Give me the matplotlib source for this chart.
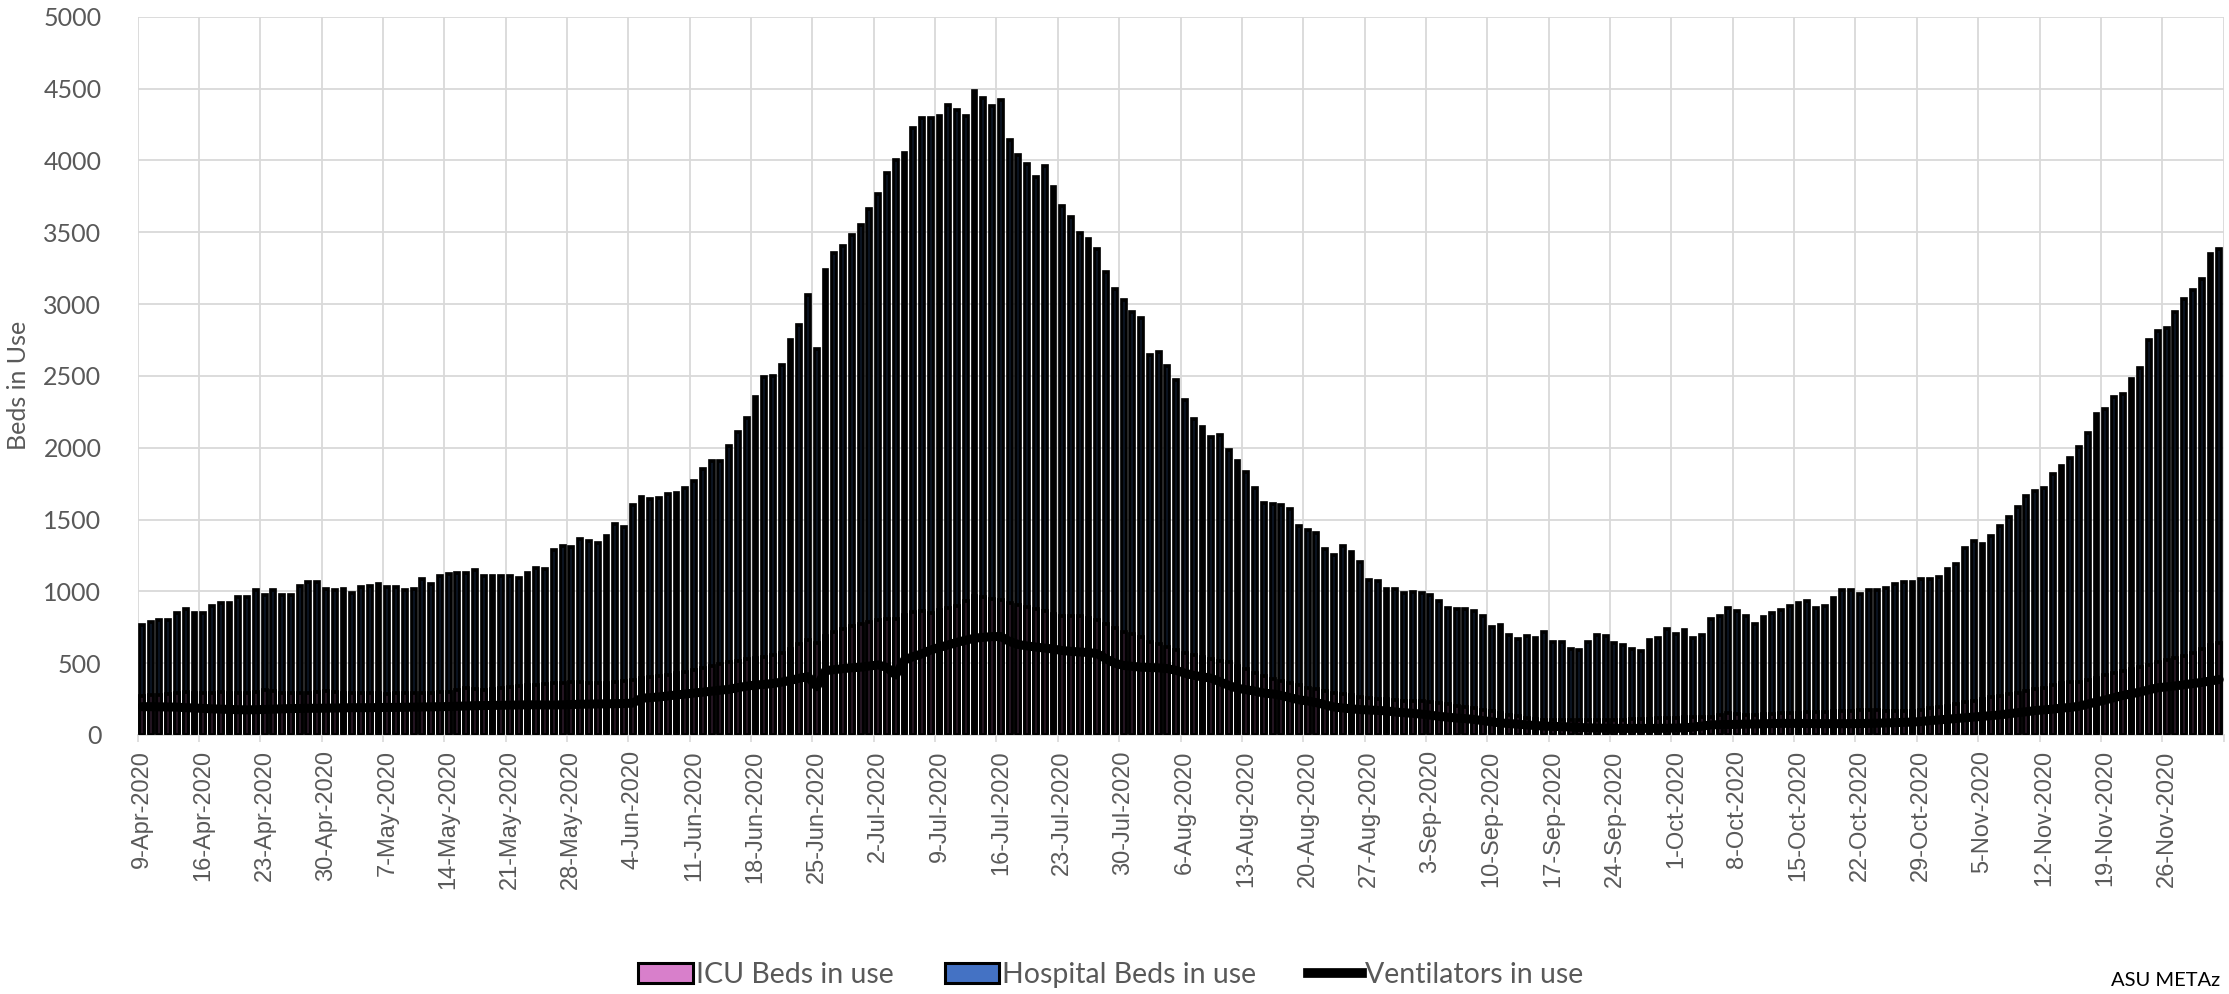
import matplotlib
matplotlib.use("Agg")
import matplotlib.pyplot as plt
from matplotlib.patches import Patch
from matplotlib.lines import Line2D
import numpy as np
import pandas as pd

# ---------------- data ----------------
start_date = "2020-04-09"
n_days = 238

hospital_beds = [
    767, 785, 801, 801, 852, 875, 852, 852, 898, 921,
    921, 963, 963, 1010, 975, 1010, 975, 975, 1040, 1066,
    1066, 1019, 1010, 1019, 987, 1031, 1040, 1054, 1031, 1031,
    1010, 1019, 1084, 1054, 1108, 1122, 1131, 1131, 1150, 1108,
    1108, 1108, 1108, 1096, 1131, 1164, 1154, 1286, 1316, 1306,
    1362, 1349, 1339, 1382, 1471, 1448, 1602, 1658, 1642, 1652,
    1675, 1684, 1717, 1767, 1849, 1905, 1905, 2010, 2109, 2208,
    2352, 2490, 2500, 2579, 2747, 2852, 3066, 2688, 3237, 3356,
    3405, 3481, 3547, 3658, 3764, 3915, 4004, 4050, 4228, 4293,
    4293, 4310, 4382, 4349, 4310, 4486, 4432, 4376, 4422, 4142,
    4034, 3974, 3885, 3961, 3816, 3685, 3603, 3494, 3451, 3385,
    3224, 3102, 3027, 2941, 2902, 2648, 2668, 2569, 2471, 2333,
    2201, 2142, 2076, 2086, 1987, 1908, 1833, 1721, 1615, 1609,
    1599, 1576, 1457, 1428, 1405, 1296, 1250, 1316, 1273, 1201,
    1082, 1069, 1017, 1015, 989, 998, 989, 975, 933, 887,
    877, 877, 866, 831, 752, 763, 696, 666, 687, 677,
    719, 650, 650, 599, 594, 650, 698, 687, 640, 629,
    599, 585, 664, 675, 740, 705, 729, 675, 696, 808,
    831, 885, 866, 831, 773, 819, 850, 873, 896, 920,
    933, 885, 898, 955, 1012, 1012, 984, 1012, 1012, 1021,
    1049, 1063, 1063, 1083, 1083, 1097, 1154, 1188, 1305, 1353,
    1331, 1388, 1453, 1518, 1587, 1667, 1695, 1718, 1814, 1874,
    1931, 2008, 2099, 2235, 2269, 2355, 2372, 2477, 2557, 2748,
    2813, 2833, 2941, 3038, 3095, 3174, 3350, 3382,
]

icu_beds = [
    270, 275, 280, 285, 290, 300, 295, 290, 295, 300,
    295, 290, 290, 300, 315, 305, 290, 295, 290, 295,
    300, 305, 300, 295, 290, 290, 295, 290, 285, 290,
    290, 290, 295, 290, 300, 302, 310, 325, 320, 315,
    320, 330, 335, 340, 345, 350, 355, 360, 365, 370,
    372, 365, 359, 362, 368, 375, 385, 395, 405, 410,
    420, 430, 440, 450, 465, 480, 495, 505, 515, 527,
    535, 541, 555, 569, 600, 630, 660, 640, 690, 720,
    740, 760, 775, 790, 800, 805, 806, 835, 859, 860,
    852, 870, 882, 900, 930, 970, 960, 950, 940, 920,
    905, 890, 875, 860, 845, 829, 830, 829, 815, 803,
    775, 747, 720, 700, 680, 650, 630, 610, 590, 570,
    555, 540, 530, 518, 507, 480, 457, 430, 408, 390,
    375, 360, 345, 330, 320, 305, 295, 285, 275, 265,
    258, 252, 248, 243, 240, 239, 235, 232, 225, 215,
    205, 195, 185, 175, 165, 150, 140, 130, 120, 112,
    104, 104, 104, 104, 104, 104, 104, 104, 104, 105,
    108, 110, 112, 115, 118, 120, 122, 124, 126, 128,
    140, 151, 145, 139, 142, 144, 146, 150, 152, 155,
    158, 160, 162, 165, 168, 170, 172, 173, 173, 170,
    167, 167, 167, 175, 185, 195, 205, 215, 228, 240,
    252, 262, 272, 282, 292, 305, 318, 329, 345, 363,
    368, 372, 385, 400, 415, 430, 445, 460, 475, 490,
    505, 520, 535, 550, 571, 600, 628, 640,
]

ventilators = [
    197, 197, 196, 195, 194, 190, 188, 185, 182, 180,
    178, 176, 175, 176, 178, 180, 182, 184, 185, 186,
    186, 187, 188, 189, 190, 190, 190, 191, 192, 192,
    193, 194, 195, 196, 197, 198, 200, 202, 204, 205,
    206, 207, 208, 209, 210, 210, 209, 209, 210, 212,
    214, 215, 216, 217, 218, 219, 222, 256, 260, 265,
    272, 279, 285, 292, 298, 305, 312, 318, 330, 340,
    348, 352, 359, 368, 380, 395, 406, 336, 448, 455,
    462, 468, 472, 480, 488, 470, 418, 522, 546, 565,
    592, 610, 627, 645, 660, 674, 680, 685, 685, 650,
    630, 620, 612, 605, 598, 588, 582, 578, 574, 566,
    530, 500, 484, 478, 472, 470, 467, 462, 450, 430,
    415, 405, 395, 370, 345, 325, 315, 305, 292, 286,
    275, 260, 245, 237, 225, 210, 195, 188, 182, 177,
    174, 171, 168, 160, 155, 151, 145, 138, 130, 124,
    118, 114, 108, 100, 92, 84, 80, 75, 70, 66,
    62, 60, 58, 56, 52, 50, 48, 47, 46, 46,
    46, 46, 46, 46, 47, 48, 50, 55, 62, 70,
    72, 73, 74, 76, 77, 78, 80, 81, 81, 81,
    80, 79, 79, 79, 79, 79, 80, 81, 82, 84,
    86, 88, 90, 94, 100, 105, 110, 115, 120, 125,
    130, 135, 140, 148, 155, 162, 170, 175, 180, 187,
    192, 200, 215, 230, 244, 260, 275, 287, 300, 315,
    329, 335, 342, 350, 358, 366, 376, 386,
]

series_names = ["ICU Beds in use", "Hospital Beds in use", "Ventilators in use"]
y_ticks = list(range(0, 5001, 500))

dates = pd.date_range(start_date, periods=n_days, freq="D")
label_idx = list(range(0, n_days, 7))[:34]
tick_labels = [f"{dates[i].day}-{dates[i].strftime('%b')}-{dates[i].year}" for i in label_idx]

# ---------------- style ----------------
ICU_C = "#D87FCB"
HOSP_C = "#4472C4"
GRID_C = "#D9D9D9"
TXT_C = "#595959"

W, H = 2229, 994
fig = plt.figure(figsize=(W / 100, H / 100), dpi=100)
left, right, top, bottom = 137.5, 2223.6, 16.7, 735
ax = fig.add_axes([left / W, (H - bottom) / H, (right - left) / W, (bottom - top) / H])

x = np.arange(n_days)
bw = 0.44
elw = 2.65
ax.bar(x, hospital_beds, width=bw, color=HOSP_C, edgecolor="black", linewidth=elw, zorder=2)
ax.bar(x, icu_beds, width=bw, color=ICU_C, edgecolor="black", linewidth=elw, zorder=3)
ax.plot(x, ventilators, color="black", linewidth=6.5, zorder=4, solid_capstyle="round",
        solid_joinstyle="round")

ax.set_xlim(-0.5, n_days - 0.5)
ax.set_ylim(0, 5000)
ax.set_yticks(y_ticks)
ax.set_yticklabels([str(v) for v in y_ticks], fontsize=18, color=TXT_C, family=["Lato", "DejaVu Sans"])
ax.tick_params(axis="y", length=0, pad=26)

ax.set_xticks(label_idx)
ax.set_xticklabels(tick_labels, rotation=90, fontsize=17, color=TXT_C,
                   family=["Liberation Sans", "DejaVu Sans"], va="top", ha="center")
ax.tick_params(axis="x", which="major", length=0, pad=11)
ax.set_xticks([7 * k - 0.5 for k in range(0, 35)], minor=True)
ax.tick_params(axis="x", which="minor", length=5, width=1.2, color=GRID_C)

ax.grid(axis="y", which="major", color=GRID_C, linewidth=1.3, zorder=0)
ax.grid(axis="x", which="minor", color=GRID_C, linewidth=1.3, zorder=0)
ax.grid(axis="x", which="major", visible=False)
ax.set_axisbelow(True)
for s in ["left", "top", "right"]:
    ax.spines[s].set_visible(False)
ax.spines["bottom"].set_color(GRID_C)
ax.spines["bottom"].set_linewidth(1.3)

fig.text(19 / W, (H - 385) / H, "Beds in Use", rotation=90, ha="center", va="center",
         fontsize=18, color=TXT_C, family=["Lato", "DejaVu Sans"])

handles = [
    Patch(facecolor=ICU_C, edgecolor="black", linewidth=2.2),
    Patch(facecolor=HOSP_C, edgecolor="black", linewidth=2.2),
    Line2D([0], [0], color="black", linewidth=7),
]
fig.legend(handles, series_names, loc="center", bbox_to_anchor=(1111 / W, (H - 975) / H),
           ncol=3, frameon=False, prop={"family": ["Lato", "DejaVu Sans"], "size": 20.5},
           labelcolor=TXT_C, handlelength=1.9, handleheight=0.66, handletextpad=0.12,
           columnspacing=1.8, borderpad=0, borderaxespad=0)

fig.text(2220 / W, (H - 980) / H, "ASU METAz", ha="right", va="center", fontsize=14.5,
         color="black", family=["Lato", "DejaVu Sans"])

fig.savefig("out.png", dpi=100)
